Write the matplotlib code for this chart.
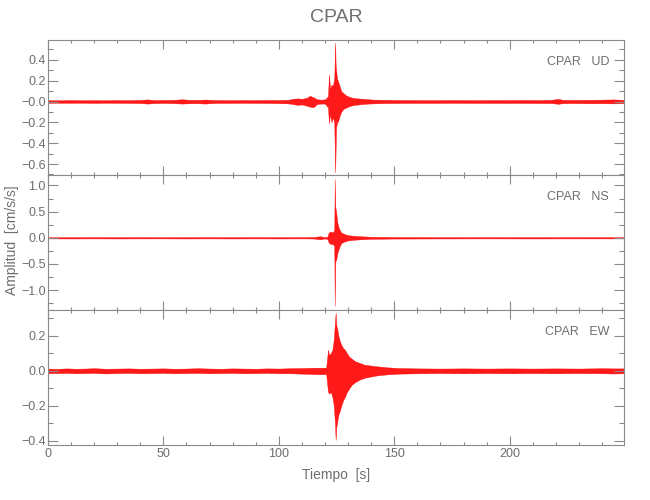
import matplotlib
matplotlib.use('Agg')
import matplotlib.pyplot as plt
from matplotlib.ticker import MultipleLocator

plt.rcParams['font.family'] = ['Liberation Sans', 'DejaVu Sans']

GREY = '#8a8a8a'
TXT = '#6e6e6e'

station = 'CPAR'
components = ['UD', 'NS', 'EW']

# envelope of each trace (time [s], upper, lower)
t_ud = [0, 5, 10, 15, 20, 25, 30, 35, 40, 43, 46, 50, 55, 58, 61, 65, 68, 72, 78, 85,
        90, 95, 100, 104, 106, 108, 110, 112, 113.5, 115, 116.5, 118, 120, 121.3, 121.7,
        122.2, 122.8, 123.4, 124.0, 124.4, 124.6, 124.8, 125.2, 125.7, 126.3, 127, 128,
        129, 130.5, 132, 134, 137, 141, 146, 155, 165, 175, 185, 195, 205, 212, 218, 221,
        223, 228, 235, 240, 245, 249.5]
up_ud = [0.013, 0.012, 0.014, 0.012, 0.013, 0.012, 0.014, 0.013, 0.015, 0.02, 0.014, 0.015,
         0.016, 0.022, 0.016, 0.015, 0.019, 0.014, 0.013, 0.014, 0.013, 0.015, 0.014, 0.016,
         0.025, 0.03, 0.026, 0.035, 0.055, 0.04, 0.022, 0.018, 0.02, 0.05, 0.26,
         0.12, 0.16, 0.15, 0.22, 0.565, 0.35, 0.3, 0.22, 0.19, 0.15, 0.1, 0.08,
         0.06, 0.045, 0.035, 0.03, 0.025, 0.018, 0.016, 0.014, 0.013, 0.014, 0.013, 0.014,
         0.015, 0.014, 0.016, 0.025, 0.016, 0.015, 0.016, 0.018, 0.02, 0.016]
lo_ud = [-0.013, -0.012, -0.013, -0.012, -0.014, -0.012, -0.013, -0.014, -0.015, -0.02,
         -0.015, -0.014, -0.016, -0.02, -0.017, -0.016, -0.02, -0.014, -0.014, -0.013,
         -0.014, -0.014, -0.016, -0.018, -0.024, -0.032, -0.028, -0.04, -0.05, -0.055,
         -0.025, -0.02, -0.02, -0.06, -0.21, -0.12, -0.2, -0.15, -0.2, -0.68, -0.45,
         -0.25, -0.2, -0.19, -0.14, -0.1, -0.07, -0.06, -0.045, -0.035, -0.03, -0.022,
         -0.018, -0.015, -0.014, -0.014, -0.013, -0.014, -0.014, -0.014, -0.015, -0.015,
         -0.022, -0.016, -0.015, -0.017, -0.016, -0.018, -0.016]

t_ns = [0, 10, 20, 30, 40, 50, 60, 70, 80, 90, 100, 110, 115, 118, 119.5, 121, 121.6,
        122.5, 123.3, 124.0, 124.2, 124.4, 124.8, 125.3, 126, 127, 128.5, 130, 132, 135,
        140, 150, 170, 190, 210, 230, 249.5]
up_ns = [0.012, 0.012, 0.013, 0.012, 0.013, 0.012, 0.012, 0.013, 0.012, 0.013, 0.012,
         0.013, 0.014, 0.03, 0.014, 0.02, 0.1, 0.12, 0.1, 0.15, 1.12, 0.6, 0.5, 0.3, 0.18,
         0.1, 0.07, 0.05, 0.04, 0.03, 0.02, 0.015, 0.012, 0.013, 0.012, 0.013, 0.012]
lo_ns = [-0.012, -0.013, -0.012, -0.013, -0.012, -0.012, -0.013, -0.012, -0.013, -0.012,
         -0.013, -0.012, -0.014, -0.03, -0.014, -0.02, -0.09, -0.12, -0.12, -0.15, -1.3,
         -0.45, -0.43, -0.3, -0.2, -0.1, -0.07, -0.05, -0.04, -0.03, -0.02, -0.015, -0.013,
         -0.012, -0.013, -0.012, -0.012]

t_ew = [0, 4, 8, 12, 16, 20, 25, 30, 35, 40, 45, 50, 55, 60, 65, 70, 75, 80, 85, 90, 95,
        100, 105, 110, 115, 118, 120.5, 121.3, 121.8, 122.5, 123.2, 123.8, 124.3, 124.6,
        124.9, 125.3, 125.8, 126.4, 127, 127.8, 128.6, 129.5, 130.5, 131.5, 133, 135, 137,
        140, 143, 147, 152, 160, 170, 180, 190, 200, 210, 220, 230, 240, 245, 249.5]
up_ew = [0.013, 0.011, 0.014, 0.012, 0.013, 0.015, 0.012, 0.013, 0.014, 0.012, 0.013,
         0.014, 0.012, 0.013, 0.015, 0.013, 0.012, 0.014, 0.013, 0.012, 0.014, 0.013, 0.015,
         0.016, 0.018, 0.018, 0.018, 0.12, 0.09, 0.1, 0.12, 0.18, 0.28, 0.33, 0.26, 0.24, 0.2,
         0.17, 0.15, 0.13, 0.12, 0.1, 0.08, 0.07, 0.055, 0.045, 0.035, 0.03, 0.025, 0.02,
         0.016, 0.014, 0.013, 0.014, 0.013, 0.014, 0.013, 0.014, 0.013, 0.015, 0.014, 0.014]
lo_ew = [-0.013, -0.013, -0.012, -0.014, -0.013, -0.012, -0.015, -0.013, -0.012, -0.014,
         -0.013, -0.012, -0.014, -0.013, -0.012, -0.014, -0.013, -0.012, -0.014, -0.013,
         -0.012, -0.014, -0.014, -0.016, -0.018, -0.02, -0.018, -0.12, -0.13, -0.12, -0.15,
         -0.2, -0.3, -0.394, -0.32, -0.29, -0.25, -0.23, -0.2, -0.17, -0.15, -0.12, -0.1,
         -0.08, -0.065, -0.05, -0.04, -0.032, -0.025, -0.02, -0.016, -0.014, -0.013,
         -0.014, -0.013, -0.014, -0.013, -0.014, -0.013, -0.014, -0.015, -0.014]

yticks_ud = [-0.6, -0.4, -0.2, 0.0, 0.2, 0.4]
ylabels_ud = ['\u22120.6', '\u22120.4', '\u22120.2', '\u22120.0', '0.2', '0.4']
yticks_ns = [-1.0, -0.5, 0.0, 0.5, 1.0]
ylabels_ns = ['\u22121.0', '\u22120.5', '0.0', '0.5', '1.0']
yticks_ew = [-0.4, -0.2, 0.0, 0.2]
ylabels_ew = ['\u22120.4', '\u22120.2', '0.0', '0.2']

xticks = [0, 50, 100, 150, 200]


def draw_panel(ax, t, up, lo, ylim, yticks, ylabels, yminor, comp):
    ax.fill_between(t, lo, up, color='red', lw=0.3, edgecolor='red', alpha=0.9)
    ax.set_xlim(0, 249.5)
    ax.set_ylim(ylim)
    ax.set_xticks(xticks)
    ax.xaxis.set_minor_locator(MultipleLocator(10))
    ax.set_yticks(yticks)
    ax.set_yticklabels(ylabels)
    ax.yaxis.set_minor_locator(MultipleLocator(yminor))
    ax.tick_params(which='both', direction='in', top=True, right=True,
                   color=GREY, labelcolor=TXT, labelsize=9, width=0.8)
    ax.tick_params(axis='x', which='major', length=6.3, pad=2)
    ax.tick_params(axis='x', which='minor', length=2.4)
    ax.tick_params(axis='y', which='major', length=7, pad=1.5)
    ax.tick_params(axis='y', which='minor', length=3.6)
    for s in ax.spines.values():
        s.set_color(GREY)
        s.set_linewidth(0.8)
    ax.text(0.974, 0.84, station + '   ' + comp, transform=ax.transAxes,
            ha='right', va='center', fontsize=9, color=TXT)


fig = plt.figure(figsize=(6.5, 5), dpi=100)
ax1 = fig.add_axes([0.0738, 0.65, 0.8862, 0.27])
ax2 = fig.add_axes([0.0738, 0.38, 0.8862, 0.27])
ax3 = fig.add_axes([0.0738, 0.11, 0.8862, 0.27])

draw_panel(ax1, t_ud, up_ud, lo_ud, (-0.705, 0.59), yticks_ud, ylabels_ud, 0.1, components[0])
draw_panel(ax2, t_ns, up_ns, lo_ns, (-1.38, 1.2), yticks_ns, ylabels_ns, 0.25, components[1])
draw_panel(ax3, t_ew, up_ew, lo_ew, (-0.423, 0.347), yticks_ew, ylabels_ew, 0.1, components[2])

ax1.tick_params(labelbottom=False)
ax2.tick_params(labelbottom=False)
ax3.set_xlabel('Tiempo  [s]', fontsize=10, color=TXT, labelpad=6)

fig.text(12.5 / 650, 1 - 240 / 500, 'Amplitud  [cm/s/s]', rotation=90,
         ha='center', va='center', fontsize=10, color=TXT)
fig.text(336 / 650, 1 - 18 / 500, station, ha='center', va='center',
         fontsize=14, color=TXT)

fig.savefig('out.png', dpi=100)
plt.close(fig)
